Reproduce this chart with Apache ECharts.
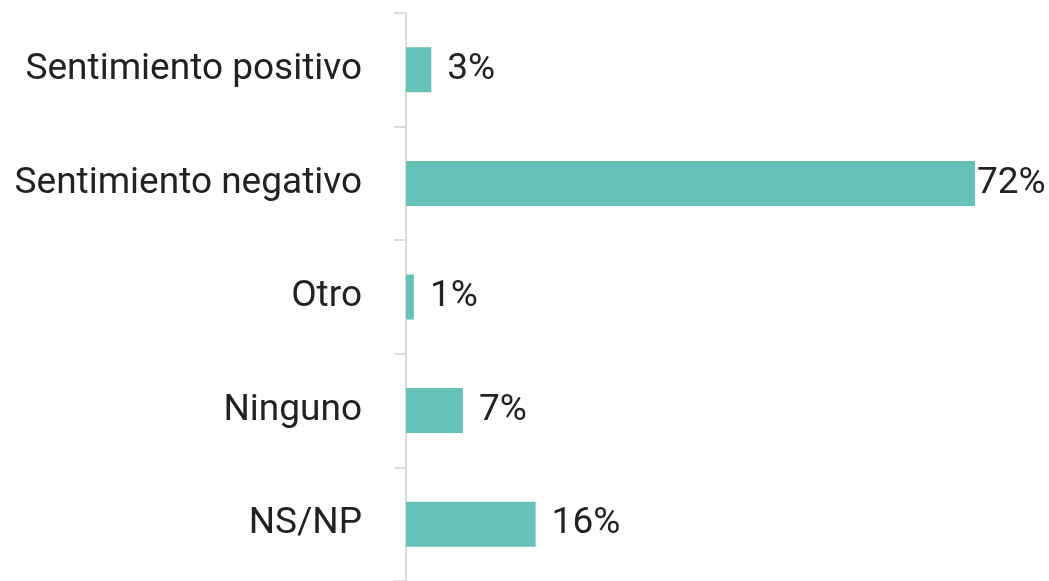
<!DOCTYPE html>
<html lang="es">
<head>
    <meta charset="UTF-8">
    <title>Sentimiento</title>
    <script src="https://cdn.jsdelivr.net/npm/echarts@6/dist/echarts.min.js"></script>
    <style>
        html, body { margin: 0; padding: 0; background: #fff; }
        #main { width: 1049px; height: 581px; }
    </style>
</head>
<body>
<div id="main"></div>
<script>
    // categorias, de arriba hacia abajo
    var categorias = ['Sentimiento positivo', 'Sentimiento negativo', 'Otro', 'Ninguno', 'NS/NP'];
    var valores = [3.2, 72, 1, 7.2, 16.4];

    var myChart = echarts.init(document.getElementById('main'));

    var datos = valores.map(function (v) {
        var item = { value: v };
        // la barra mas larga deja su etiqueta pegada al final
        if (v === 72) {
            item.label = { distance: 2 };
        }
        return item;
    });

    var option = {
        animation: false,
        grid: { left: 406, right: 74, top: 13, height: 570 },
        xAxis: {
            type: 'value',
            min: 0,
            max: 72,
            show: false
        },
        yAxis: {
            type: 'category',
            inverse: true,
            data: categorias,
            axisLine: { show: true, lineStyle: { color: '#dcdcdc', width: 2 } },
            axisTick: { show: true, length: 12, lineStyle: { color: '#dcdcdc', width: 2 } },
            axisLabel: {
                margin: 44,
                padding: [4, 0, 0, 0],
                fontFamily: 'Roboto',
                fontSize: 37,
                color: '#222'
            }
        },
        series: [{
            type: 'bar',
            data: datos,
            barWidth: 45,
            itemStyle: { color: '#66c1b8' },
            label: {
                show: true,
                position: 'right',
                distance: 16,
                padding: [2, 0, 0, 0],
                formatter: function (p) {
                    return Math.round(p.value) + '%';
                },
                fontFamily: 'Roboto',
                fontSize: 37,
                color: '#222'
            }
        }]
    };
    myChart.setOption(option);
</script>
</body>
</html>
